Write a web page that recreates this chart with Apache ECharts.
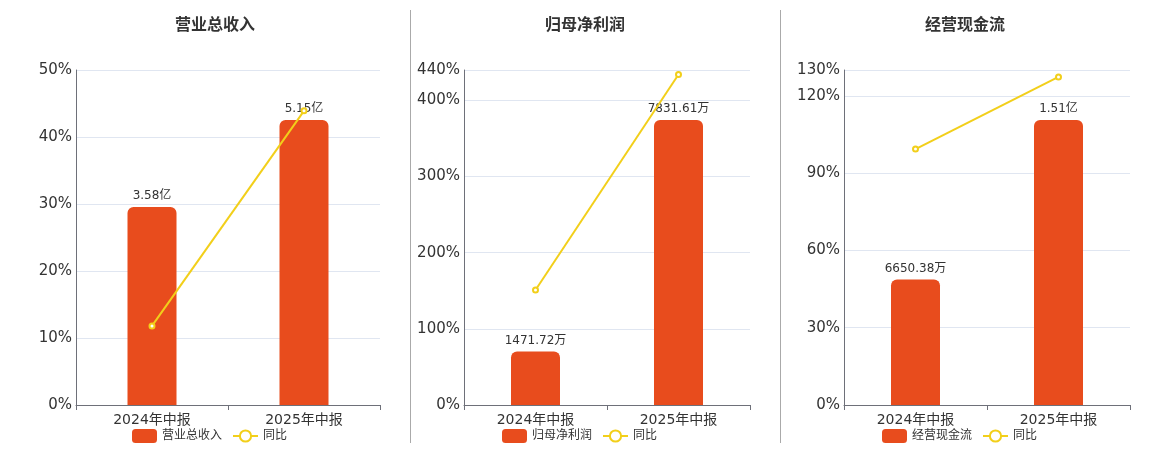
<!DOCTYPE html>
<html><head><meta charset="utf-8">
<script src="https://cdn.jsdelivr.net/npm/echarts@6/dist/echarts.min.js"></script>
<style>html,body{margin:0;padding:0;background:#fff}#c{width:1160px;height:450px}</style>
</head><body><div id="c"></div>
<script>
const categories = ['2024年中报', '2025年中报'];
const titles = ['营业总收入', '归母净利润', '经营现金流'];
// values in 万元
const revenue = [35800, 51500];
const netProfit = [1471.72, 7831.61];
const cashFlow = [6650.38, 15100];
// 同比 (%)
const revenueYoy = [11.8, 43.9];
const netProfitYoy = [151, 434];
const cashFlowYoy = [99.3, 127.3];
const pctMax = [50, 440, 130];
const pctInterval = [10, 100, 30];

const barData = [revenue, netProfit, cashFlow];
const lineData = [revenueYoy, netProfitYoy, cashFlowYoy];

const grids = [
  {left: 76, width: 304, top: 70, height: 335},
  {left: 464, width: 286, top: 70, height: 335},
  {left: 844, width: 286, top: 70, height: 335}
];
const centers = [210, 580, 960];
const legendLeft = [127, 497, 877];

function fmt(v){ return v >= 10000 ? (v/10000).toFixed(2)+'亿' : v.toFixed(2)+'万'; }

const FONT = '"DejaVu Sans", "Noto Sans CJK SC", sans-serif';
const chart = echarts.init(document.getElementById('c'));
const option = {
  animation: false,
  textStyle: {fontFamily: FONT},
  title: titles.map((t,i)=>({text: t, left: centers[i], top: 11, textAlign: 'center',
    textStyle: {fontSize: 16, fontWeight: 'bold', color: '#333', fontFamily: '"Noto Sans CJK SC", sans-serif'}})),
  legend: titles.map((t,i)=>({data: [t, {name: '同比'}], left: legendLeft[i], top: 424,
    itemWidth: 25, itemHeight: 14, itemGap: 10,
    textStyle: {fontSize: 12, color: '#333', fontFamily: FONT}})),
  grid: grids,
  xAxis: grids.map((g,i)=>({type: 'category', gridIndex: i, data: categories,
    axisLine: {lineStyle: {color: '#6E7079'}}, axisTick: {show: true, lineStyle: {color: '#6E7079'}},
    axisLabel: {fontSize: 14, color: '#333', margin: 8, fontFamily: FONT}})),
  yAxis: [].concat(...grids.map((g,i)=>[
    {type: 'value', gridIndex: i, min: 0, max: pctMax[i], interval: pctInterval[i],
      axisLine: {show: true, lineStyle: {color: '#6E7079'}}, axisTick: {show: false},
      axisLabel: {formatter: '{value}%', fontSize: 15, color: '#333', margin: 4, fontFamily: FONT},
      splitLine: {lineStyle: {color: '#E0E6F1'}}},
    {type: 'value', gridIndex: i, min: 0, max: v => v.max / 0.8507, show: false, splitLine: {show: false}}
  ])),
  series: [].concat(...grids.map((g,i)=>[
    {type: 'bar', name: titles[i], xAxisIndex: i, yAxisIndex: i*2+1, data: barData[i],
      barWidth: 49, itemStyle: {color: '#E84C1D', borderRadius: [6,6,0,0]},
      label: {show: true, position: 'top', formatter: p => fmt(p.value), fontSize: 12, color: '#333', fontFamily: FONT}},
    {type: 'line', name: '同比', xAxisIndex: i, yAxisIndex: i*2, data: lineData[i],
      symbol: 'emptyCircle', symbolSize: 5, z: 5,
      lineStyle: {color: '#F2CF1A', width: 2}, itemStyle: {color: '#F2CF1A'}}
  ])),
  graphic: [410, 780].map(x => ({type: 'line', shape: {x1: x+0.5, y1: 10, x2: x+0.5, y2: 443},
    style: {stroke: '#aaa', lineWidth: 1}}))
};
chart.setOption(option);
</script></body></html>
